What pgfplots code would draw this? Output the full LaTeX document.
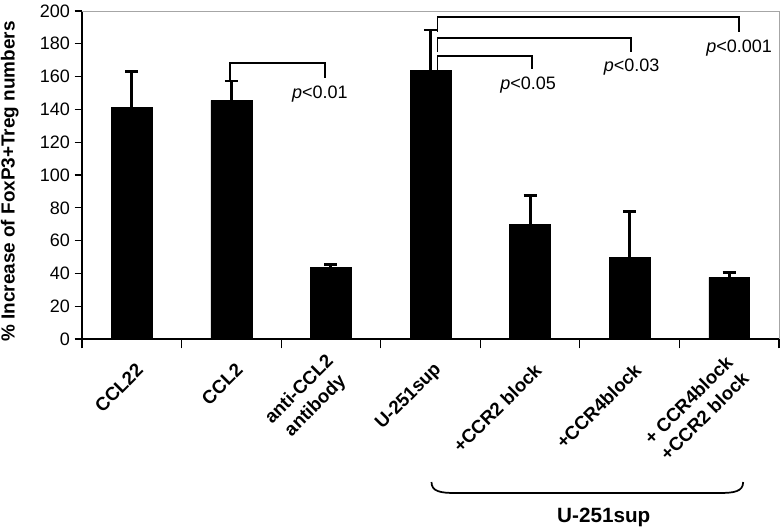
\documentclass[border=0pt]{standalone}
\usepackage{pgfplots}
\pgfplotsset{compat=1.18}
\usepackage{fontspec}
\setmainfont{Liberation Sans}
\pgfplotstableread{
x y e
0 141.0 22.2
1 145.5 11.8
2 43.7 2.0
3 163.6 24.8
4 69.9 17.5
5 49.6 28.4
6 37.6 3.1
}\bars
\begin{document}
\begin{tikzpicture}
\useasboundingbox (-61.5pt,-142.5pt) rectangle (524.25pt,254.25pt);
\begin{axis}[
  at={(0pt,0pt)}, anchor=south west,
  scale only axis, width=522.75pt, height=246pt,
  xmin=-0.5, xmax=6.5, ymin=0, ymax=200,
  axis x line*=bottom, axis y line*=left,
  axis line style={line width=1pt, black},
  clip=false,
  tick align=outside,
  major tick length=5.5pt, minor tick length=7pt,
  tick style={black, line width=0.9pt},
  ytick={0,20,...,200},
  xtick={0,...,6},
  major x tick style={draw=none},
  minor xtick={-0.5,0.5,...,6.5},
  xticklabels={CCL22, CCL2, {anti-CCL2\\antibody}, U-251sup, +CCR2 block, +CCR4block, {+ CCR4block\\+CCR2 block}},
  xticklabel style={xshift=8.5pt, yshift=-13pt, rotate=45, anchor=east, align=center,
     font=\fontsize{14}{17}\selectfont\bfseries},
  yticklabel style={font=\fontsize{13.5}{16}\selectfont},
  /pgf/number format/assume math mode=true,
  ylabel={\% Increase of FoxP3+Treg numbers},
  ylabel style={at={(axis description cs:-0.1035,0.48)}, anchor=center, rotate=0,
     font=\fontsize{14.2}{17}\selectfont\bfseries},
]
\draw[gray!70, line width=0.6pt] (rel axis cs:0,1) -- (rel axis cs:1,1) -- (rel axis cs:1,0);
\addplot[ybar, bar width=0.41, fill=black, draw=black,
  error bars/.cd, y dir=plus, y explicit,
  error bar style={line width=2.2pt, black},
  error mark options={rotate=90, mark size=4.9pt, line width=2.2pt, black}]
  table[x=x, y=y, y error=e] {\bars};
% brackets
\draw[line width=1.3pt] (axis cs:0.99,157.3) -- (axis cs:0.99,168.5) -- (axis cs:1.94,168.5) -- (axis cs:1.94,159);
\draw[line width=1.3pt] (axis cs:3.07,164.0) -- (axis cs:3.07,172.6) -- (axis cs:4.02,172.6) -- (axis cs:4.02,164.6);
\draw[line width=1.3pt] (axis cs:3.07,175) -- (axis cs:3.07,183.7) -- (axis cs:5.01,183.7) -- (axis cs:5.01,175);
\draw[line width=1.3pt] (axis cs:3.07,187.4) -- (axis cs:3.07,196.5) -- (axis cs:6.10,196.5) -- (axis cs:6.10,187.4);
\node[font=\fontsize{13.5}{16}\selectfont] at (axis cs:1.89,149.6) {\textit{p}<0.01};
\node[font=\fontsize{13.5}{16}\selectfont] at (axis cs:3.98,154.6) {\textit{p}<0.05};
\node[font=\fontsize{13.5}{16}\selectfont] at (axis cs:5.02,165.8) {\textit{p}<0.03};
\node[font=\fontsize{13.5}{16}\selectfont] at (axis cs:6.10,177.3) {\textit{p}<0.001};
% brace
\draw[line width=1.3pt] (axis cs:3.01,-87.2) .. controls (axis cs:3.01,-93) and (axis cs:3.1,-93.9) .. (axis cs:3.25,-93.9)
  -- (axis cs:5.90,-93.9) .. controls (axis cs:6.05,-93.9) and (axis cs:6.14,-93) .. (axis cs:6.14,-87.2);
\node[font=\fontsize{15.5}{18}\selectfont\bfseries] at (axis cs:4.74,-108.5) {U-251sup};
\end{axis}
\end{tikzpicture}
\end{document}
